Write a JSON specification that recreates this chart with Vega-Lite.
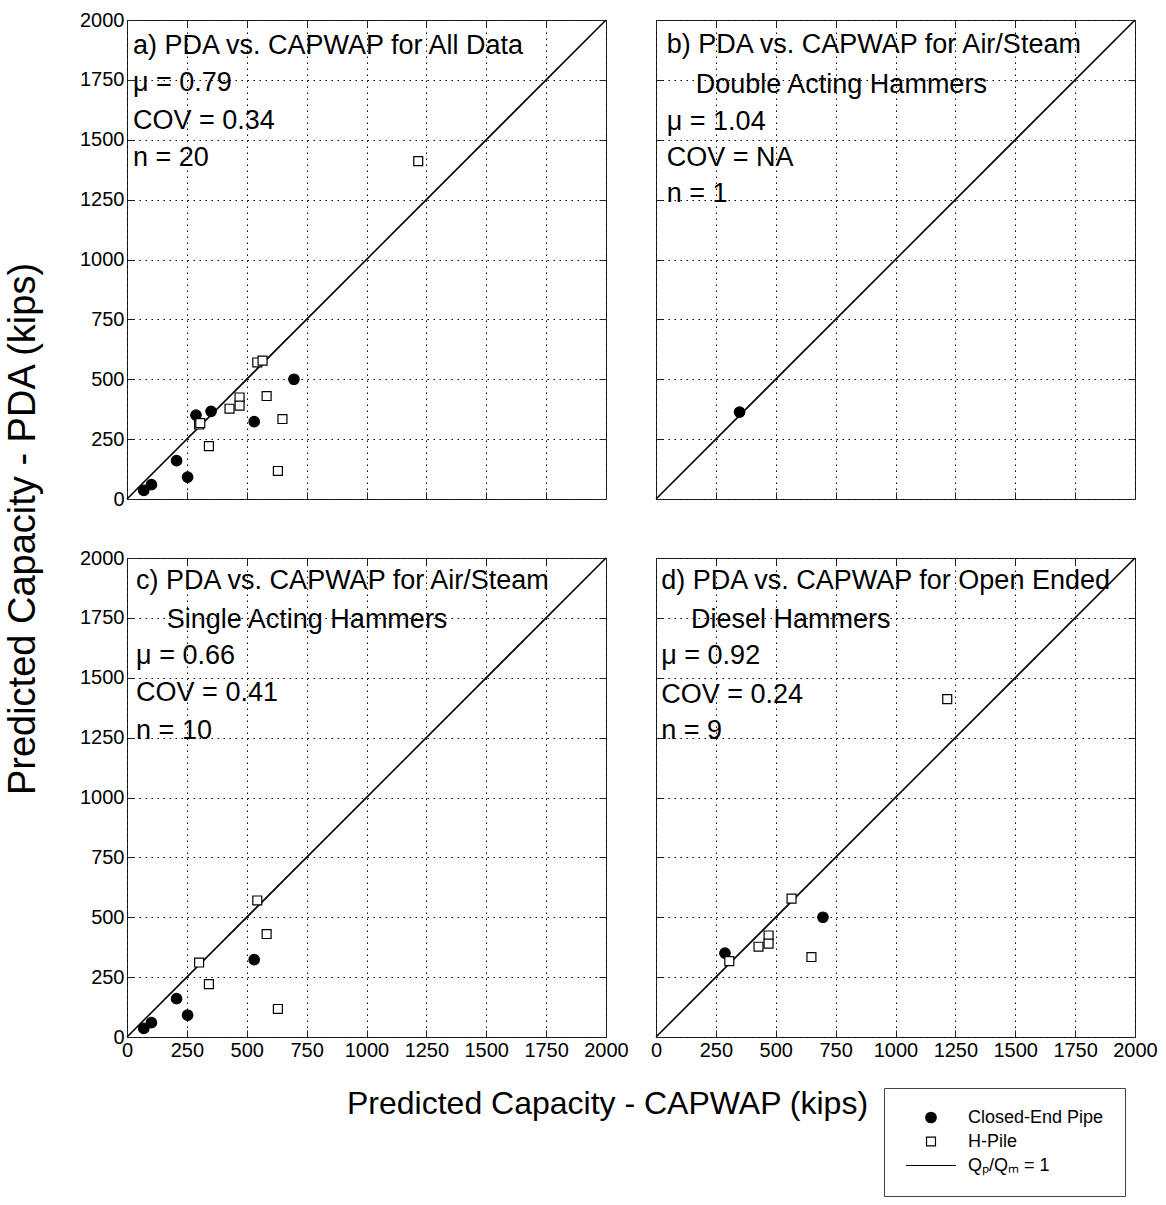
{
  "$schema": "https://vega.github.io/schema/vega-lite/v6.json",
  "background": "white",
  "padding": {"left": 3, "top": 9, "right": 0, "bottom": 0},
  "config": {
    "font": "Liberation Sans",
    "view": {"stroke": "#222", "strokeWidth": 1},
    "axis": {
      "domain": false,
      "format": "d",
      "labelOverlap": false,
      "labelFlush": false,
      "gridColor": "#000",
      "gridDash": [1.5, 4.5],
      "gridWidth": 1,
      "gridOpacity": 1,
      "tickColor": "#222",
      "tickSize": -7,
      "tickWidth": 1,
      "labelFont": "Liberation Sans",
      "labelFontSize": 20,
      "labelColor": "#000",
      "labelPadding": 10,
      "titleFont": "Liberation Sans",
      "titleFontSize": 32,
      "titleFontWeight": "normal",
      "titleColor": "#000"
    },
    "legend": {
      "title": " ", "titleOrient": "bottom", "titleFontSize": 30, "titlePadding": 14,
      "orient": "none", "legendX": 757, "legendY": 1068,
      "strokeColor": "#444", "fillColor": "white", "padding": 21, "rowPadding": 5,
      "clipHeight": 17,
      "labelFont": "Liberation Sans", "labelFontSize": 18, "labelColor": "#000", "labelOffset": 11,
      "symbolStrokeColor": "#000", "symbolStrokeWidth": 1.2
    }
  },
  "datasets": {
    "pts": [
      {"panel": "a", "pile": "Closed-End Pipe", "capwap": 70, "pda": 36},
      {"panel": "a", "pile": "Closed-End Pipe", "capwap": 102, "pda": 60},
      {"panel": "a", "pile": "Closed-End Pipe", "capwap": 207, "pda": 160},
      {"panel": "a", "pile": "Closed-End Pipe", "capwap": 253, "pda": 91},
      {"panel": "a", "pile": "Closed-End Pipe", "capwap": 288, "pda": 350},
      {"panel": "a", "pile": "Closed-End Pipe", "capwap": 351, "pda": 366},
      {"panel": "a", "pile": "Closed-End Pipe", "capwap": 531, "pda": 323},
      {"panel": "a", "pile": "Closed-End Pipe", "capwap": 697, "pda": 500},
      {"panel": "a", "pile": "H-Pile", "capwap": 301, "pda": 311},
      {"panel": "a", "pile": "H-Pile", "capwap": 306, "pda": 317},
      {"panel": "a", "pile": "H-Pile", "capwap": 342, "pda": 221},
      {"panel": "a", "pile": "H-Pile", "capwap": 428, "pda": 377},
      {"panel": "a", "pile": "H-Pile", "capwap": 470, "pda": 424},
      {"panel": "a", "pile": "H-Pile", "capwap": 470, "pda": 390},
      {"panel": "a", "pile": "H-Pile", "capwap": 544, "pda": 570},
      {"panel": "a", "pile": "H-Pile", "capwap": 566, "pda": 578},
      {"panel": "a", "pile": "H-Pile", "capwap": 583, "pda": 430},
      {"panel": "a", "pile": "H-Pile", "capwap": 630, "pda": 117},
      {"panel": "a", "pile": "H-Pile", "capwap": 649, "pda": 334},
      {"panel": "a", "pile": "H-Pile", "capwap": 1216, "pda": 1411},
      {"panel": "b", "pile": "Closed-End Pipe", "capwap": 349, "pda": 363},
      {"panel": "c", "pile": "Closed-End Pipe", "capwap": 70, "pda": 36},
      {"panel": "c", "pile": "Closed-End Pipe", "capwap": 102, "pda": 60},
      {"panel": "c", "pile": "Closed-End Pipe", "capwap": 207, "pda": 160},
      {"panel": "c", "pile": "Closed-End Pipe", "capwap": 253, "pda": 91},
      {"panel": "c", "pile": "Closed-End Pipe", "capwap": 531, "pda": 323},
      {"panel": "c", "pile": "H-Pile", "capwap": 301, "pda": 311},
      {"panel": "c", "pile": "H-Pile", "capwap": 342, "pda": 221},
      {"panel": "c", "pile": "H-Pile", "capwap": 544, "pda": 570},
      {"panel": "c", "pile": "H-Pile", "capwap": 583, "pda": 430},
      {"panel": "c", "pile": "H-Pile", "capwap": 630, "pda": 117},
      {"panel": "d", "pile": "Closed-End Pipe", "capwap": 288, "pda": 350},
      {"panel": "d", "pile": "Closed-End Pipe", "capwap": 697, "pda": 500},
      {"panel": "d", "pile": "H-Pile", "capwap": 306, "pda": 317},
      {"panel": "d", "pile": "H-Pile", "capwap": 428, "pda": 377},
      {"panel": "d", "pile": "H-Pile", "capwap": 470, "pda": 424},
      {"panel": "d", "pile": "H-Pile", "capwap": 470, "pda": 390},
      {"panel": "d", "pile": "H-Pile", "capwap": 566, "pda": 578},
      {"panel": "d", "pile": "H-Pile", "capwap": 649, "pda": 334},
      {"panel": "d", "pile": "H-Pile", "capwap": 1216, "pda": 1411}
    ],
    "diag": [
      {"capwap": 0, "pda": 0},
      {"capwap": 2000, "pda": 2000}
    ],
    "txt": [
      {"panel": "a", "tx": 25, "ty": 1891, "label": "a) PDA vs. CAPWAP for All Data"},
      {"panel": "a", "tx": 25, "ty": 1735, "label": "μ = 0.79"},
      {"panel": "a", "tx": 25, "ty": 1578, "label": "COV = 0.34"},
      {"panel": "a", "tx": 25, "ty": 1424, "label": "n = 20"},
      {"panel": "b", "tx": 45, "ty": 1897, "label": "b) PDA vs. CAPWAP for Air/Steam"},
      {"panel": "b", "tx": 166, "ty": 1730, "label": "Double Acting Hammers"},
      {"panel": "b", "tx": 45, "ty": 1576, "label": "μ = 1.04"},
      {"panel": "b", "tx": 45, "ty": 1423, "label": "COV = NA"},
      {"panel": "b", "tx": 45, "ty": 1272, "label": "n = 1"},
      {"panel": "c", "tx": 38, "ty": 1903, "label": "c) PDA vs. CAPWAP for Air/Steam"},
      {"panel": "c", "tx": 166, "ty": 1743, "label": "Single Acting Hammers"},
      {"panel": "c", "tx": 38, "ty": 1590, "label": "μ = 0.66"},
      {"panel": "c", "tx": 38, "ty": 1437, "label": "COV = 0.41"},
      {"panel": "c", "tx": 38, "ty": 1277, "label": "n = 10"},
      {"panel": "d", "tx": 22, "ty": 1903, "label": "d) PDA vs. CAPWAP for Open Ended"},
      {"panel": "d", "tx": 146, "ty": 1743, "label": "Diesel Hammers"},
      {"panel": "d", "tx": 22, "ty": 1590, "label": "μ = 0.92"},
      {"panel": "d", "tx": 22, "ty": 1430, "label": "COV = 0.24"},
      {"panel": "d", "tx": 22, "ty": 1277, "label": "n = 9"}
    ]
  },
  "columns": 2,
  "spacing": {"row": 59, "column": 50},
  "bounds": "flush",
  "concat": [
    {
      "width": 479, "height": 479,
      "layer": [
        {
          "data": {"name": "diag"},
          "mark": {"type": "line", "color": "#000", "strokeWidth": 1.6},
          "encoding": {
            "x": {"field": "capwap", "type": "quantitative", "scale": {"domain": [0, 2000], "nice": false}, "axis": {"orient": "top", "grid": false, "labels": false, "title": null, "values": [0, 250, 500, 750, 1000, 1250, 1500, 1750, 2000]}},
            "y": {"field": "pda", "type": "quantitative", "scale": {"domain": [0, 2000], "nice": false}, "axis": {"orient": "right", "grid": false, "labels": false, "title": null, "values": [0, 250, 500, 750, 1000, 1250, 1500, 1750, 2000]}}
          }
        },
        {
          "data": {"name": "pts"},
          "transform": [{"filter": "datum.panel === 'a'"}],
          "mark": {"type": "point", "filled": true, "strokeWidth": 1.2, "opacity": 1},
          "encoding": {
            "x": {"field": "capwap", "type": "quantitative", "axis": {"orient": "bottom", "grid": true, "labels": false, "title": null, "values": [0, 250, 500, 750, 1000, 1250, 1500, 1750, 2000]}},
            "y": {"field": "pda", "type": "quantitative", "axis": {"orient": "left", "grid": true, "labels": true, "title": "Predicted Capacity - PDA (kips)", "titleFontSize": 38, "titleX": -104, "titleY": 508.5, "titleAngle": -90, "titleAlign": "center", "titleBaseline": "middle", "values": [0, 250, 500, 750, 1000, 1250, 1500, 1750, 2000]}},
            "shape": {"field": "pile", "type": "nominal", "scale": {"domain": ["Closed-End Pipe", "H-Pile", "Qₚ/Qₘ = 1"], "range": ["circle", "square", "stroke"]}},
            "fill": {"field": "pile", "type": "nominal", "scale": {"domain": ["Closed-End Pipe", "H-Pile", "Qₚ/Qₘ = 1"], "range": ["#000", "#fff", "#000"]}},
            "stroke": {"field": "pile", "type": "nominal", "scale": {"domain": ["Closed-End Pipe", "H-Pile", "Qₚ/Qₘ = 1"], "range": ["#000", "#000", "#000"]}},
            "size": {"field": "pile", "type": "ordinal", "scale": {"type": "ordinal", "domain": ["Closed-End Pipe", "H-Pile", "Qₚ/Qₘ = 1"], "range": [110, 80, 2500]}}
          }
        },
        {
          "data": {"name": "txt"},
          "transform": [{"filter": "datum.panel === 'a'"}],
          "mark": {"type": "text", "align": "left", "baseline": "middle", "fontSize": 27, "font": "Liberation Sans", "color": "#000"},
          "encoding": {
            "x": {"field": "tx", "type": "quantitative", "axis": null},
            "y": {"field": "ty", "type": "quantitative", "axis": null},
            "text": {"field": "label"}
          }
        }
      ]
    },
    {
      "width": 479, "height": 479,
      "layer": [
        {
          "data": {"name": "diag"},
          "mark": {"type": "line", "color": "#000", "strokeWidth": 1.6},
          "encoding": {
            "x": {"field": "capwap", "type": "quantitative", "scale": {"domain": [0, 2000], "nice": false}, "axis": {"orient": "top", "grid": false, "labels": false, "title": null, "values": [0, 250, 500, 750, 1000, 1250, 1500, 1750, 2000]}},
            "y": {"field": "pda", "type": "quantitative", "scale": {"domain": [0, 2000], "nice": false}, "axis": {"orient": "right", "grid": false, "labels": false, "title": null, "values": [0, 250, 500, 750, 1000, 1250, 1500, 1750, 2000]}}
          }
        },
        {
          "data": {"name": "pts"},
          "transform": [{"filter": "datum.panel === 'b'"}],
          "mark": {"type": "point", "filled": true, "stroke": "#000", "strokeWidth": 1.2, "opacity": 1},
          "encoding": {
            "x": {"field": "capwap", "type": "quantitative", "axis": {"orient": "bottom", "grid": true, "labels": false, "title": null, "values": [0, 250, 500, 750, 1000, 1250, 1500, 1750, 2000]}},
            "y": {"field": "pda", "type": "quantitative", "axis": {"orient": "left", "grid": true, "labels": false, "title": null, "values": [0, 250, 500, 750, 1000, 1250, 1500, 1750, 2000]}},
            "shape": {"condition": {"test": "datum.pile === 'H-Pile'", "value": "square"}, "value": "circle"},
            "fill": {"condition": {"test": "datum.pile === 'H-Pile'", "value": "#fff"}, "value": "#000"},
            "size": {"condition": {"test": "datum.pile === 'H-Pile'", "value": 80}, "value": 110}
          }
        },
        {
          "data": {"name": "txt"},
          "transform": [{"filter": "datum.panel === 'b'"}],
          "mark": {"type": "text", "align": "left", "baseline": "middle", "fontSize": 27, "font": "Liberation Sans", "color": "#000"},
          "encoding": {
            "x": {"field": "tx", "type": "quantitative", "axis": null},
            "y": {"field": "ty", "type": "quantitative", "axis": null},
            "text": {"field": "label"}
          }
        }
      ]
    },
    {
      "width": 479, "height": 479,
      "layer": [
        {
          "data": {"name": "diag"},
          "mark": {"type": "line", "color": "#000", "strokeWidth": 1.6},
          "encoding": {
            "x": {"field": "capwap", "type": "quantitative", "scale": {"domain": [0, 2000], "nice": false}, "axis": {"orient": "top", "grid": false, "labels": false, "title": null, "values": [0, 250, 500, 750, 1000, 1250, 1500, 1750, 2000]}},
            "y": {"field": "pda", "type": "quantitative", "scale": {"domain": [0, 2000], "nice": false}, "axis": {"orient": "right", "grid": false, "labels": false, "title": null, "values": [0, 250, 500, 750, 1000, 1250, 1500, 1750, 2000]}}
          }
        },
        {
          "data": {"name": "pts"},
          "transform": [{"filter": "datum.panel === 'c'"}],
          "mark": {"type": "point", "filled": true, "stroke": "#000", "strokeWidth": 1.2, "opacity": 1},
          "encoding": {
            "x": {"field": "capwap", "type": "quantitative", "axis": {"orient": "bottom", "grid": true, "labels": true, "title": "Predicted Capacity - CAPWAP (kips)", "titleX": 480, "titleY": 66, "titleAlign": "center", "titleBaseline": "middle", "values": [0, 250, 500, 750, 1000, 1250, 1500, 1750, 2000]}},
            "y": {"field": "pda", "type": "quantitative", "axis": {"orient": "left", "grid": true, "labels": true, "title": null, "values": [0, 250, 500, 750, 1000, 1250, 1500, 1750, 2000]}},
            "shape": {"condition": {"test": "datum.pile === 'H-Pile'", "value": "square"}, "value": "circle"},
            "fill": {"condition": {"test": "datum.pile === 'H-Pile'", "value": "#fff"}, "value": "#000"},
            "size": {"condition": {"test": "datum.pile === 'H-Pile'", "value": 80}, "value": 110}
          }
        },
        {
          "data": {"name": "txt"},
          "transform": [{"filter": "datum.panel === 'c'"}],
          "mark": {"type": "text", "align": "left", "baseline": "middle", "fontSize": 27, "font": "Liberation Sans", "color": "#000"},
          "encoding": {
            "x": {"field": "tx", "type": "quantitative", "axis": null},
            "y": {"field": "ty", "type": "quantitative", "axis": null},
            "text": {"field": "label"}
          }
        }
      ]
    },
    {
      "width": 479, "height": 479,
      "layer": [
        {
          "data": {"name": "diag"},
          "mark": {"type": "line", "color": "#000", "strokeWidth": 1.6},
          "encoding": {
            "x": {"field": "capwap", "type": "quantitative", "scale": {"domain": [0, 2000], "nice": false}, "axis": {"orient": "top", "grid": false, "labels": false, "title": null, "values": [0, 250, 500, 750, 1000, 1250, 1500, 1750, 2000]}},
            "y": {"field": "pda", "type": "quantitative", "scale": {"domain": [0, 2000], "nice": false}, "axis": {"orient": "right", "grid": false, "labels": false, "title": null, "values": [0, 250, 500, 750, 1000, 1250, 1500, 1750, 2000]}}
          }
        },
        {
          "data": {"name": "pts"},
          "transform": [{"filter": "datum.panel === 'd'"}],
          "mark": {"type": "point", "filled": true, "stroke": "#000", "strokeWidth": 1.2, "opacity": 1},
          "encoding": {
            "x": {"field": "capwap", "type": "quantitative", "axis": {"orient": "bottom", "grid": true, "labels": true, "title": null, "values": [0, 250, 500, 750, 1000, 1250, 1500, 1750, 2000]}},
            "y": {"field": "pda", "type": "quantitative", "axis": {"orient": "left", "grid": true, "labels": false, "title": null, "values": [0, 250, 500, 750, 1000, 1250, 1500, 1750, 2000]}},
            "shape": {"condition": {"test": "datum.pile === 'H-Pile'", "value": "square"}, "value": "circle"},
            "fill": {"condition": {"test": "datum.pile === 'H-Pile'", "value": "#fff"}, "value": "#000"},
            "size": {"condition": {"test": "datum.pile === 'H-Pile'", "value": 80}, "value": 110}
          }
        },
        {
          "data": {"name": "txt"},
          "transform": [{"filter": "datum.panel === 'd'"}],
          "mark": {"type": "text", "align": "left", "baseline": "middle", "fontSize": 27, "font": "Liberation Sans", "color": "#000"},
          "encoding": {
            "x": {"field": "tx", "type": "quantitative", "axis": null},
            "y": {"field": "ty", "type": "quantitative", "axis": null},
            "text": {"field": "label"}
          }
        }
      ]
    }
  ]
}
